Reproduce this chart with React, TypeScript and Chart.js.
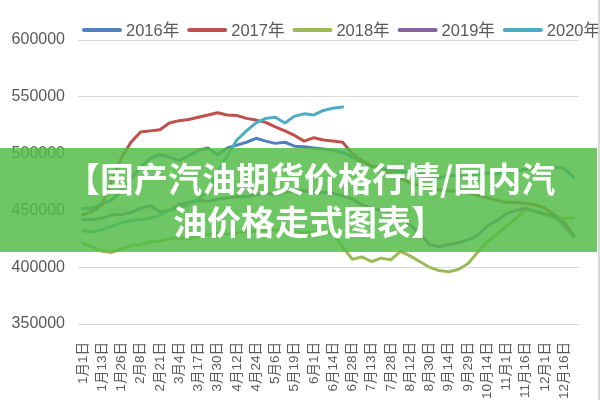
import React, { useEffect, useRef } from 'react';
import { Chart, registerables } from 'chart.js';

Chart.register(...registerables);

const tickLabels = [
  '1月1日', '1月13日', '1月26日', '2月8日', '2月21日', '3月4日', '3月17日', '3月30日',
  '4月12日', '4月24日', '5月6日', '5月19日', '6月1日', '6月14日', '6月28日', '7月13日',
  '7月28日', '8月12日', '8月30日', '9月14日', '9月29日', '10月14日', '11月1日', '11月16日',
  '12月1日', '12月16日',
];

// weekly points: a labelled week followed by an unlabelled one
const categories = tickLabels.flatMap((l) => [l, '']);

const seriesNames = ['2016年', '2017年', '2018年', '2019年', '2020年'];
const seriesColors = ['#4F81BD', '#C0504D', '#9BBB59', '#8064A2', '#4BACC6'];

const s2016 = [
  452000, 452000, 456000, 459000, 467000, 478000, 488000, 496000, 499000, 497000,
  494000, 498000, 503000, 505000, 499000, 505000, 507500, 510000, 513500, 511000,
  509000, 510000, 506500, 506000, 505000, 504000, 503000, 501000, 497000, 493000,
  489000, 487000, 485000, 484000, 484000, 482000, 480000, 479000, 480000, 481000,
  480000, 482000, 483000, 482000, 484000, 485000, 486000, 488000, 487000, 488000,
  487000, 479000,
];
const s2017 = [
  446000, 449000, 455000, 476000, 496000, 510000, 519000, 520000, 521000, 527000,
  529000, 530000, 532000, 534000, 536000, 534000, 533500, 531000, 529500, 527500,
  523500, 520000, 516000, 511000, 514000, 512000, 511000, 510000, 500000, 494000,
  489000, 486000, 482000, 478000, 474000, 472000, 470000, 468000, 467000, 467000,
  466000, 463000, 461000, 459000, 457000, 457000, 456000, 455000, 452000, 446000,
  440000, 428000,
];
const s2018 = [
  421000, 418000, 414000, 413000, 416000, 419000, 420000, 422000, 423000, 425000,
  426000, 425000, 427000, 429000, 430000, 429000, 430000, 431000, 432000, 432000,
  433000, 432000, 431000, 430000, 431000, 430000, 429000, 418000, 407000, 409000,
  405000, 408000, 406500, 414000, 410000, 405000, 400000, 397000, 396000, 398000,
  403000, 413000, 422000, 429000, 436000, 443000, 451000, 449000, 446000, 443000,
  443000, 443500,
];
const s2019 = [
  442000, 442000, 443000, 446000, 446500, 448000, 452000, 454000, 449000, 450000,
  455000, 457000, 459000, 458000, 460000, 461000, 462000, 462000, 464000, 465000,
  464000, 466000, 467000, 467000, 466000, 466000, 465000, 463000, 460000, 455000,
  452000, 450000, 447000, 441000, 437000, 430000, 420000, 418000, 420000, 421500,
  424000, 428000, 436000, 441000, 447000, 450000, 452000, 449000, 447000, 445000,
  437000, 427000,
];
const s2020 = [
  432000, 431000, 433000, 436000, 439000, 441000, 442000, 443000, 446000, 450000,
  452000, 455000, 460000, 468000, 484000, 498000, 512000, 520000, 527000, 531000,
  532000, 527000, 533000, 535000, 534000, 538000, 540000, 541000,
  null, null, null, null, null, null, null, null, null, null, null, null,
  null, null, null, null, null, null, null, null, null, null, null, null,
];

const yMin = 350000;
const yMax = 600000;
const yStep = 50000;

const FONT = '"Liberation Sans", "Noto Sans CJK SC", sans-serif';

const legendPlugin = {
  id: 'topLegend',
  afterDraw(chart: any) {
    const ctx = chart.ctx;
    ctx.save();
    ctx.font = `16.5px ${FONT}`;
    ctx.textBaseline = 'middle';
    let x = 84;
    const y = 30;
    chart.data.datasets.forEach((ds: any) => {
      ctx.strokeStyle = ds.borderColor;
      ctx.lineWidth = 4;
      ctx.lineCap = 'round';
      ctx.beginPath();
      ctx.moveTo(x, y);
      ctx.lineTo(x + 36, y);
      ctx.stroke();
      ctx.fillStyle = '#595959';
      ctx.fillText(ds.label, x + 42, y + 1);
      x += 42 + ctx.measureText(ds.label).width + 10;
    });
    ctx.restore();
  },
};

export default function App() {
  const ref = useRef<HTMLCanvasElement>(null);

  useEffect(() => {
    const data = [s2016, s2017, s2018, s2019, s2020];
    const chart = new Chart(ref.current as HTMLCanvasElement, {
      type: 'line',
      data: {
        labels: categories,
        datasets: data.map((d, i) => ({
          label: seriesNames[i],
          data: d,
          borderColor: seriesColors[i],
          backgroundColor: seriesColors[i],
          borderWidth: 3,
          pointRadius: 0,
          pointHoverRadius: 0,
          tension: 0,
          fill: false,
          spanGaps: false,
          borderJoinStyle: 'round' as const,
          borderCapStyle: 'round' as const,
          order: data.length - i,
        })),
      },
      options: {
        animation: false,
        responsive: false,
        devicePixelRatio: 1,
        layout: { padding: { top: 40, right: 10, left: 0, bottom: 0 } },
        plugins: {
          legend: { display: false },
          tooltip: { enabled: false },
        },
        scales: {
          x: {
            offset: true,
            grid: { display: false },
            border: { display: false },
            ticks: {
              autoSkip: false,
              maxRotation: 90,
              minRotation: 90,
              padding: 10,
              color: '#595959',
              font: { family: FONT, size: 13.5 },
            },
            afterFit: (s: any) => {
              s.height = 76;
            },
          },
          y: {
            min: yMin,
            max: yMax,
            ticks: {
              stepSize: yStep,
              padding: 13,
              color: '#595959',
              font: { family: FONT, size: 16 },
              callback: (v: any) => String(v),
            },
            grid: { color: '#d9d9d9', drawTicks: false, lineWidth: 1 },
            border: { display: false },
            afterFit: (s: any) => {
              s.width = 78;
            },
          },
        },
      },
      plugins: [legendPlugin],
    });
    return () => chart.destroy();
  }, []);

  return (
    <div style={{ position: 'absolute', left: 0, top: 0, width: 600, height: 400, background: '#fff', overflow: 'hidden' }}>
      <canvas ref={ref} width={600} height={400} style={{ display: 'block' }} />
      <div
        style={{
          position: 'absolute', left: 0, top: 148, width: 597, height: 104,
          background: 'rgba(82,188,70,0.84)',
        }}
      />
      <div
        style={{
          position: 'absolute', left: 66, top: 161, fontSize: 34, lineHeight: '34px',
          fontFamily: '"Noto Sans CJK SC", sans-serif', fontWeight: 700, color: '#fff', whiteSpace: 'nowrap',
        }}
      >
        【国产汽油期货价格行情/国内汽
      </div>
      <div
        style={{
          position: 'absolute', left: 173, top: 204, fontSize: 34, lineHeight: '34px',
          fontFamily: '"Noto Sans CJK SC", sans-serif', fontWeight: 700, color: '#fff', whiteSpace: 'nowrap',
        }}
      >
        油价格走式图表】
      </div>
      <div style={{ position: 'absolute', left: 598, top: 0, width: 2, height: 400, background: '#d8d8d8' }} />
    </div>
  );
}
